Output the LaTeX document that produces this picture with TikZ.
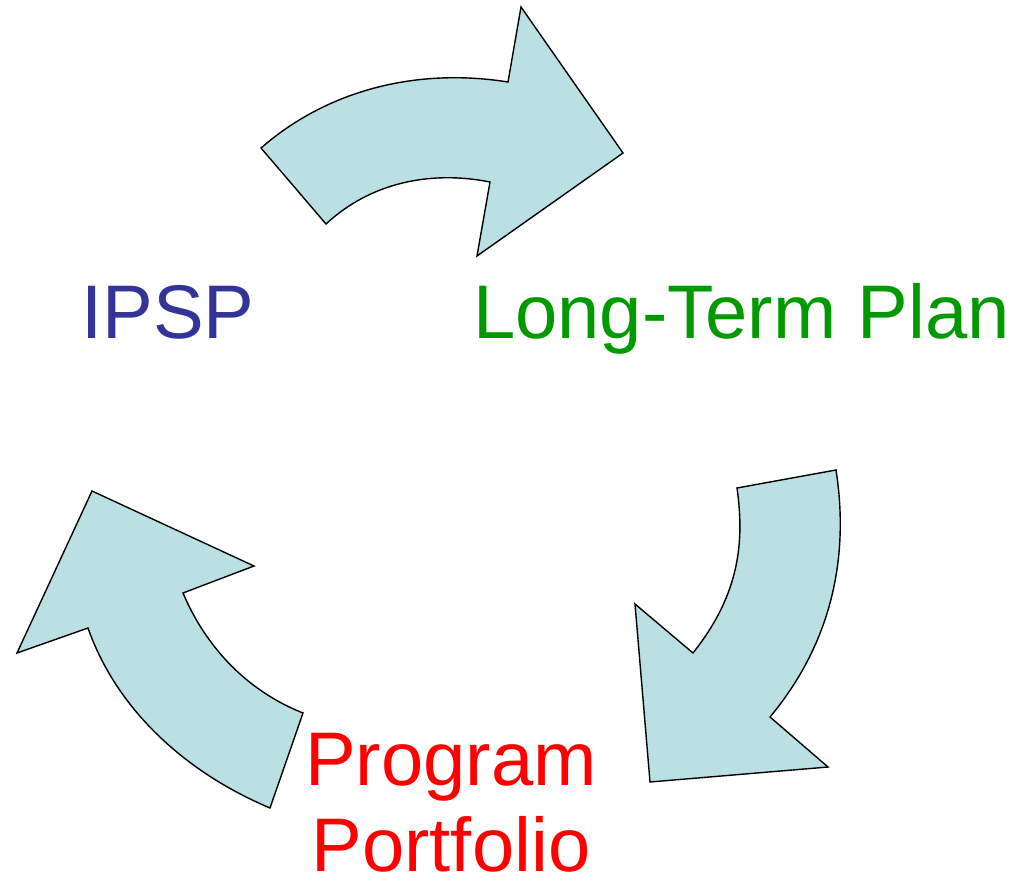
\documentclass[tikz,border=0pt]{standalone}
\usepackage{fontspec}
\setmainfont{Liberation Sans}
\definecolor{arrowfill}{RGB}{187,224,227}
\definecolor{ipspblue}{RGB}{51,51,153}
\definecolor{plangreen}{RGB}{0,153,0}
\definecolor{portred}{RGB}{255,0,0}

\begin{document}
\begin{tikzpicture}[x=1pt,y=-1pt,
    cyclearrow/.style={fill=arrowfill, draw=black, line width=1.4pt, line join=miter},
    label/.style={inner sep=0pt, font=\fontsize{76}{86}\selectfont}]
    \useasboundingbox (0,0) rectangle (1017,885);
    % top arrow
    \draw[cyclearrow] (261,148) .. controls (330,88) and (420,68) .. (508,82)
      -- (521,7) -- (623,153) -- (477,256) -- (490,182)
      .. controls (430,170) and (370,183) .. (326,224) -- cycle;
    % right arrow
    \draw[cyclearrow] (836,470) .. controls (850,560) and (830,645) .. (770,717)
      -- (828,767) -- (650,782) -- (635,604) -- (693,653)
      .. controls (735,600) and (746,550) .. (737,488) -- cycle;
    % left arrow
    \draw[cyclearrow] (270,808) .. controls (180,770) and (115,705) .. (88,628)
      -- (17,653) -- (92,491) -- (254,566) -- (183,593)
      .. controls (205,645) and (245,690) .. (303,713) -- cycle;
    \node[label, text=ipspblue, anchor=base west] (ipsp) at (81,338) {IPSP};
    \node[label, text=plangreen, anchor=base west] (plan) at (473,338) {Long-Term Plan};
    \node[label, text=portred, anchor=base, align=center, text depth=0pt] (portfolio) at (451,871) {Program\\Portfolio};
\end{tikzpicture}
\end{document}
